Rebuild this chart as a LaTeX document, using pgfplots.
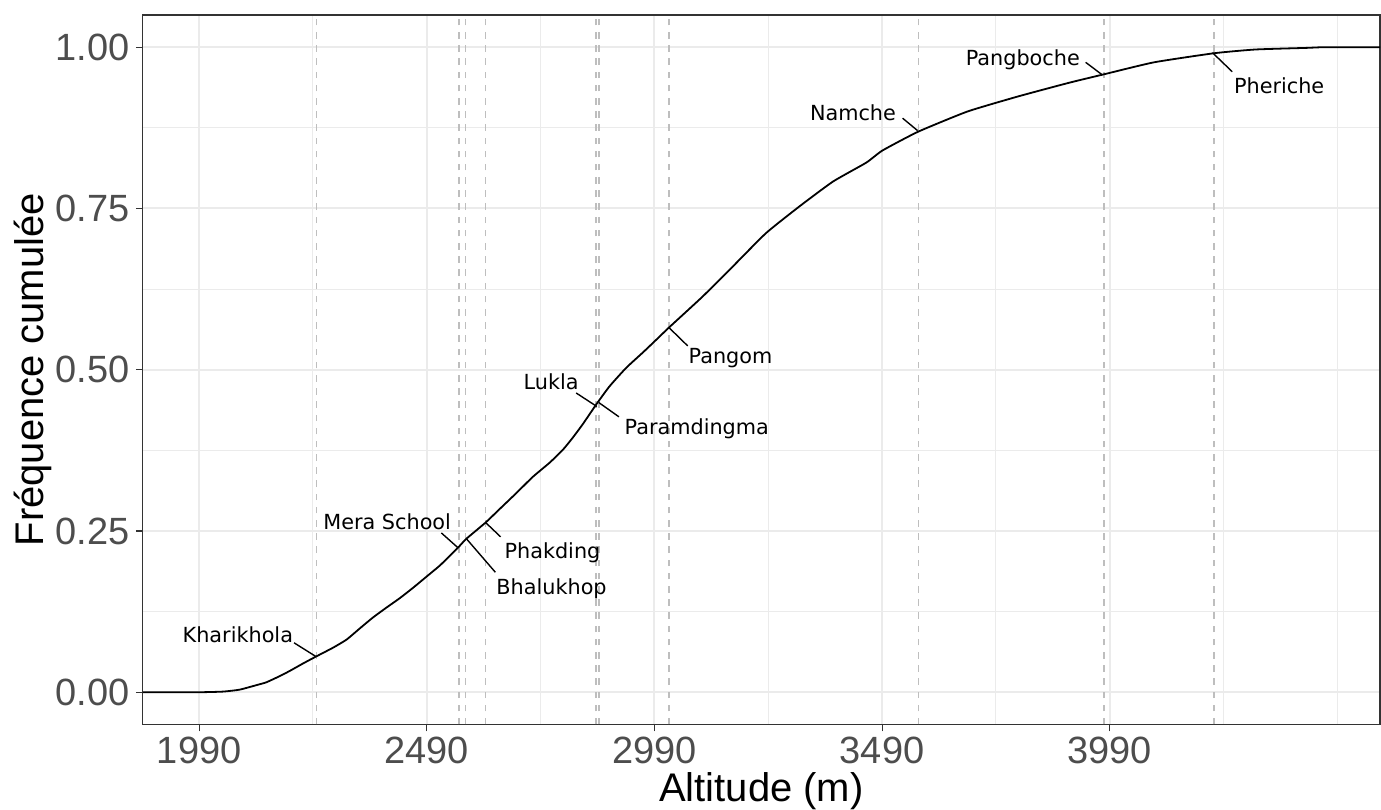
\documentclass[border=0pt]{standalone}
\usepackage{fontspec}
\setmainfont{Liberation Sans}
\newfontfamily\lab{DejaVu Sans}
\usepackage{pgfplots}
\pgfplotsset{compat=1.18}
\usepackage{pgfplotstable}
\usetikzlibrary{calc}
\definecolor{gridc}{HTML}{EBEBEB}
\definecolor{vlinec}{HTML}{BEBEBE}
\definecolor{tickc}{HTML}{4D4D4D}
\definecolor{borderc}{HTML}{333333}

\pgfplotstableread{
alt val
1866.5 0
1990 0
2043 0.001
2079 0.004
2116 0.011
2138 0.0155
2167 0.025
2189 0.033
2218 0.0445
2248 0.0558
2284 0.069
2314 0.0817
2343 0.099
2372 0.116
2401 0.131
2431 0.146
2460 0.162
2489 0.179
2518 0.196
2540 0.211
2561 0.226
2577 0.238
2619 0.263
2650 0.284
2687 0.309
2723 0.334
2760 0.356
2789 0.376
2811 0.395
2833 0.416
2862 0.446
2891 0.474
2928 0.503
2965 0.527
2994 0.5465
3022 0.5655
3096 0.6136
3162 0.660
3235 0.7118
3308 0.753
3382 0.7917
3455 0.821
3491 0.840
3569 0.8690
3678 0.9005
3790 0.924
3901 0.945
3977 0.958
4087 0.9766
4219 0.9907
4310 0.9965
4422 0.9990
4460 1.0
4583.5 1.0
}\ecdf

\begin{document}
\begin{tikzpicture}
\path[use as bounding box] (-71.5pt,-42.5pt) rectangle (619.5pt,362.5pt);
\begin{axis}[
  name=ax,
  scale only axis,
  width=619pt, height=355pt,
  xmin=1866.5, xmax=4583.5,
  ymin=-0.05, ymax=1.05,
  xtick={1990,2490,2990,3490,3990},
  xticklabels={1990,2490,2990,3490,3990},
  ytick={0,0.25,0.5,0.75,1},
  yticklabels={0.00,0.25,0.50,0.75,1.00},
  minor xtick={2240,2740,3240,3740,4240,4490},
  minor ytick={0.125,0.375,0.625,0.875},
  grid=both,
  major grid style={draw=gridc, line width=1pt},
  minor grid style={draw=gridc, line width=0.5pt},
  minor tick length=0pt,
  major tick length=3.5pt,
  tick align=outside,
  tick pos=left,
  tick style={draw=borderc, line width=0.6pt},
  axis line style={draw=borderc, line width=0.6pt},
  /pgf/number format/assume math mode=true,
  xticklabel style={font=\fontsize{19}{22}\selectfont, text=tickc, anchor=base, inner sep=0pt, yshift=-16pt},
  yticklabel style={font=\fontsize{19}{22}\selectfont, text=tickc, anchor=east, inner sep=0pt, xshift=-3pt},
  xlabel={Altitude (m)},
  ylabel={Fréquence cumulée},
  xlabel style={font=\fontsize{20}{24}\selectfont, at={($(axis description cs:0.5,0)+(0,-38.5pt)$)}, anchor=base, inner sep=0pt},
  ylabel style={font=\fontsize{20}{24}\selectfont, at={($(axis description cs:0,0.5)+(-49.75pt,0)$)}, anchor=base, inner sep=0pt, rotate=0},
  axis on top=false,
  clip mode=individual,
]
\pgfplotsinvokeforeach{2248,2561,2575,2619,2861,2868,3022,3570,3977,4219}{
  \addplot[draw=vlinec, line width=0.9pt, dash pattern=on 3.3pt off 3.3pt, forget plot] coordinates {(#1,-0.05) (#1,1.05)};
}
\addplot[black, line width=0.9pt, smooth, tension=0.3] table[x=alt, y=val] {\ecdf};

\begin{scope}[every node/.style={font=\lab\fontsize{10.4}{12}\selectfont, anchor=base, inner sep=0pt}]
\node at (axis cs:2075,0.077) {Kharikhola};
\node at (axis cs:2403,0.252) {Mera School};
\node at (axis cs:2764,0.151) {Bhalukhop};
\node at (axis cs:2766,0.208) {Phakding};
\node at (axis cs:2763,0.469) {Lukla};
\node at (axis cs:3083,0.399) {Paramdingma};
\node at (axis cs:3157,0.509) {Pangom};
\node at (axis cs:3426,0.887) {Namche};
\node at (axis cs:3799,0.971) {Pangboche};
\node at (axis cs:4362,0.928) {Pheriche};
\end{scope}
\begin{scope}[line width=0.7pt]
\draw (axis cs:2198.6,0.0766) -- (axis cs:2245.5,0.0558);
\draw (axis cs:2522,0.247) -- (axis cs:2558.5,0.224);
\draw (axis cs:2577,0.238) -- (axis cs:2640.6,0.186);
\draw (axis cs:2619.3,0.263) -- (axis cs:2652,0.241);
\draw (axis cs:2818,0.464) -- (axis cs:2863.5,0.443);
\draw (axis cs:2868,0.449) -- (axis cs:2912,0.427);
\draw (axis cs:3021.6,0.5655) -- (axis cs:3063,0.537);
\draw (axis cs:3535,0.890) -- (axis cs:3568,0.8707);
\draw (axis cs:3937,0.9766) -- (axis cs:3972,0.958);
\draw (axis cs:4215.5,0.9916) -- (axis cs:4259,0.962);
\end{scope}
\end{axis}
\end{tikzpicture}
\end{document}
